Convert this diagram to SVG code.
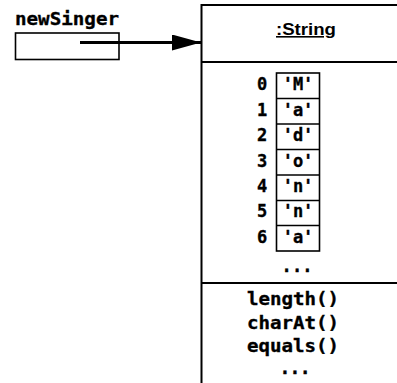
<svg xmlns="http://www.w3.org/2000/svg" width="397" height="383" viewBox="0 0 397 383">
<style>
.m{font-family:"DejaVu Sans Mono","Liberation Mono",monospace;font-weight:bold;fill:#000;stroke:#000;stroke-width:0.35}
.ln{fill:none;stroke:#000}
</style>
<defs>
<marker id="ah" markerUnits="userSpaceOnUse" markerWidth="30" markerHeight="16" refX="29" refY="8" orient="auto">
<path d="M0,0 L29,8 L0,16 Z" fill="#000"/>
</marker>
</defs>
<rect width="397" height="383" fill="#fff"/>
<g id="newSinger">
<text class="m" x="15" y="25" font-size="18" textLength="104" lengthAdjust="spacingAndGlyphs">newSinger</text>
<rect class="ln" x="15.5" y="33" width="103.5" height="26.5" stroke-width="1.6"/>
</g>
<g id="string-object">
<rect class="ln" x="201.5" y="5" width="300" height="400" stroke-width="2"/>
<line class="ln" x1="201.5" y1="62" x2="397" y2="62" stroke-width="2"/>
<line class="ln" x1="201.5" y1="283" x2="397" y2="283" stroke-width="2"/>
<text x="306" y="35" font-family="Liberation Sans,Arial,sans-serif" font-weight="bold" font-size="16" text-anchor="middle" textLength="60" lengthAdjust="spacingAndGlyphs" text-decoration="underline">:String</text>
<g id="chars">
<rect class="ln" x="276.5" y="73" width="43" height="178" stroke-width="1.6"/>
<g class="ln" stroke-width="1.6">
<line x1="276.5" y1="98.5" x2="319.5" y2="98.5"/>
<line x1="276.5" y1="124" x2="319.5" y2="124"/>
<line x1="276.5" y1="149.5" x2="319.5" y2="149.5"/>
<line x1="276.5" y1="175" x2="319.5" y2="175"/>
<line x1="276.5" y1="200.5" x2="319.5" y2="200.5"/>
<line x1="276.5" y1="225.5" x2="319.5" y2="225.5"/>
</g>
<g class="m" font-size="17" text-anchor="middle">
<text x="262" y="90">0</text>
<text x="262" y="115.5">1</text>
<text x="262" y="141">2</text>
<text x="262" y="166.5">3</text>
<text x="262" y="192">4</text>
<text x="262" y="217">5</text>
<text x="262" y="242.5">6</text>
<text x="298" y="90">'M'</text>
<text x="298" y="115.5">'a'</text>
<text x="298" y="141">'d'</text>
<text x="298" y="166.5">'o'</text>
<text x="298" y="192">'n'</text>
<text x="298" y="217">'n'</text>
<text x="298" y="242.5">'a'</text>
<text x="297" y="272" textLength="31" lengthAdjust="spacing">...</text>
</g>
</g>
<g id="methods" class="m" font-size="18">
<text x="247" y="305" textLength="92" lengthAdjust="spacingAndGlyphs">length()</text>
<text x="247" y="329" textLength="92" lengthAdjust="spacingAndGlyphs">charAt()</text>
<text x="247" y="352" textLength="92" lengthAdjust="spacingAndGlyphs">equals()</text>
<text x="295" y="374" text-anchor="middle" textLength="31" lengthAdjust="spacing">...</text>
</g>
</g>
<g id="connectors">
<line x1="80" y1="42.5" x2="201" y2="42.5" stroke="#000" stroke-width="3.2" marker-end="url(#ah)"/>
</g>
</svg>
